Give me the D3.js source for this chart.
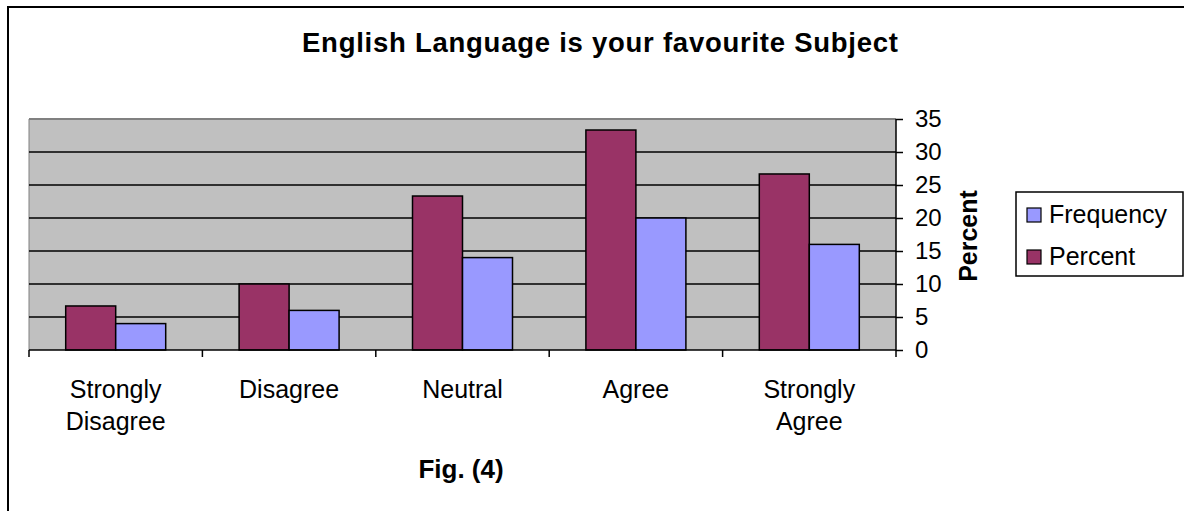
<!DOCTYPE html>
<html><head><meta charset="utf-8">
<script src="https://cdn.jsdelivr.net/npm/d3@7"></script>
<style>body{margin:0;background:#fff;} text{font-family:"Liberation Sans",Arial,sans-serif;}</style>
</head><body><svg id="c" width="1184" height="511"></svg>
<script>
const categories = [["Strongly","Disagree"],["Disagree"],["Neutral"],["Agree"],["Strongly","Agree"]];
const seriesNames = ["Percent","Frequency"];
const percentValues = [6.67, 10, 23.33, 33.33, 26.67];
const frequencyValues = [4, 6, 14, 20, 16];
const yTicks = [0,5,10,15,20,25,30,35];
const legendOrder = ["Frequency","Percent"];
const colors = {Percent:"#993366", Frequency:"#9999FF"};

const svg = d3.select("#c");
// outer chart border
svg.append("rect").attr("x",8).attr("y",7).attr("width",1190).attr("height",520)
  .attr("fill","#fff").attr("stroke","#000").attr("stroke-width",2);

const L=29, R=896, T=119, B=350;
const x = d3.scaleBand().domain(d3.range(categories.length)).range([L,R]).paddingInner(0).paddingOuter(0);
const y = d3.scaleLinear().domain([0,35]).range([B,T]);

svg.append("rect").attr("x",L).attr("y",T).attr("width",R-L).attr("height",B-T)
  .attr("fill","#C0C0C0");
svg.append("line").attr("x1",L).attr("x2",R).attr("y1",T).attr("y2",T).attr("stroke","#808080").attr("stroke-width",2);
svg.append("line").attr("x1",L).attr("x2",L).attr("y1",T).attr("y2",B).attr("stroke","#808080").attr("stroke-width",1);

// gridlines
svg.append("g").selectAll("line").data(yTicks.filter(d=>d>0 && d<35)).join("line")
  .attr("x1",L).attr("x2",R).attr("y1",d=>y(d)).attr("y2",d=>y(d))
  .attr("stroke","#000").attr("stroke-width",1.5);

// bars
const barW = 50;
const data = categories.map((c,i)=>({i, Percent:percentValues[i], Frequency:frequencyValues[i]}));
const g = svg.append("g");
seriesNames.forEach((s,k)=>{
  g.selectAll(null).data(data).join("rect")
    .attr("x",d=>x(d.i)+x.bandwidth()/2 - barW + k*barW)
    .attr("y",d=>y(d[s]))
    .attr("width",barW)
    .attr("height",d=>B-y(d[s]))
    .attr("fill",colors[s]).attr("stroke","#000").attr("stroke-width",1.5);
});

// y axis right
const yAxis = d3.axisRight(y).tickValues(yTicks).tickSize(7).tickPadding(12);
const ya = svg.append("g").attr("transform",`translate(${R},0)`).call(yAxis);
ya.select(".domain").attr("stroke","#000").attr("stroke-width",1.5).attr("d",`M0,${T}V${B}`);
ya.selectAll(".tick line").attr("stroke","#000").attr("stroke-width",1.5);
ya.selectAll(".tick text").attr("font-size",24).attr("fill","#000").attr("font-family","Liberation Sans, Arial, sans-serif");

// x axis
svg.append("line").attr("x1",L).attr("x2",R).attr("y1",B).attr("y2",B).attr("stroke","#000").attr("stroke-width",1.5);
const bounds = d3.range(categories.length+1).map(i=> i<categories.length ? x(i) : R);
svg.append("g").selectAll("line").data(bounds).join("line")
  .attr("x1",d=>d).attr("x2",d=>d).attr("y1",B).attr("y2",B+7).attr("stroke","#000").attr("stroke-width",1.5);
const xl = svg.append("g").selectAll("text").data(categories).join("text")
  .attr("x",(d,i)=>x(i)+x.bandwidth()/2).attr("y",398)
  .attr("text-anchor","middle").attr("font-size",25).attr("fill","#000");
xl.each(function(d){
  const t=d3.select(this);
  d.forEach((line,j)=>t.append("tspan").attr("x",t.attr("x")).attr("dy",j===0?0:32).text(line));
});

// title
svg.append("text").attr("x",600).attr("y",52).attr("text-anchor","middle")
  .attr("font-size",27.5).attr("font-weight","bold")
  .attr("textLength",596).attr("lengthAdjust","spacing")
  .text("English Language is your favourite Subject");

// y axis title
svg.append("text").attr("transform","translate(977,236) rotate(-90)").attr("text-anchor","middle")
  .attr("font-size",25).attr("font-weight","bold").text("Percent");

// fig caption
svg.append("text").attr("x",461).attr("y",478).attr("text-anchor","middle")
  .attr("font-size",26).attr("font-weight","bold").text("Fig. (4)");

// legend
const lg = svg.append("g");
lg.append("rect").attr("x",1016).attr("y",192).attr("width",167).attr("height",84)
  .attr("fill","#fff").attr("stroke","#000").attr("stroke-width",1.5);
legendOrder.forEach((s,k)=>{
  const base = 223 + k*42;
  lg.append("rect").attr("x",1027).attr("y",base-15).attr("width",14).attr("height",14)
    .attr("fill",colors[s]).attr("stroke","#000").attr("stroke-width",1.2);
  lg.append("text").attr("x",1049).attr("y",base).attr("font-size",25).text(s);
});
</script></body></html>
